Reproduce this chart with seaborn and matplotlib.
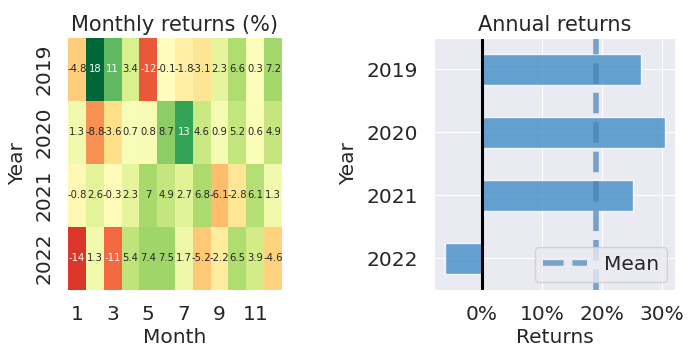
import numpy as np
import pandas as pd
import matplotlib
matplotlib.use("Agg")
import matplotlib.pyplot as plt
import matplotlib.ticker as mticker
import seaborn as sns

years = [2019, 2020, 2021, 2022]
months = list(range(1, 13))
ret_2019 = [-4.8, 18, 11, 3.4, -12, -0.1, -1.8, -3.1, 2.3, 6.6, 0.3, 7.2]
ret_2020 = [1.3, -8.8, -3.6, 0.7, 0.8, 8.7, 13, 4.6, 0.9, 5.2, 0.6, 4.9]
ret_2021 = [-0.8, 2.6, -0.3, 2.3, 7, 4.9, 2.7, 6.8, -6.1, -2.8, 6.1, 1.3]
ret_2022 = [-14, 1.3, -11, 5.4, 7.4, 7.5, 1.7, -5.2, -2.2, 6.5, 3.9, -4.6]
annual_returns = [0.265, 0.305, 0.253, -0.062]

sns.set_style("darkgrid")
plt.rcParams['font.family'] = ['DejaVu Sans']

monthly = pd.DataFrame([ret_2019, ret_2020, ret_2021, ret_2022], index=years, columns=months)
monthly.index.name = "Year"
monthly.columns.name = "Month"

fig = plt.figure(figsize=(6.9, 3.54), dpi=100)
ax1 = fig.add_axes([0.0986, 0.181, 0.310, 0.712])
ax2 = fig.add_axes([0.629, 0.181, 0.349, 0.712])

FS = 14.5
sns.heatmap(monthly, ax=ax1, cmap="RdYlGn", center=0.0, annot=True, fmt=".2g",
            annot_kws={"size": 7.2}, cbar=False, xticklabels=2, yticklabels=1)
ax1.set_title("Monthly returns (%)", fontsize=15, pad=5)
ax1.set_xlabel("Month", fontsize=FS, labelpad=3)
ax1.set_ylabel("Year", fontsize=FS, labelpad=5)
ax1.tick_params(axis='x', labelsize=FS, rotation=0, pad=7)
ax1.tick_params(axis='y', labelsize=FS, rotation=90, pad=7)
for t in ax1.get_yticklabels():
    t.set_va('center')

ann = pd.DataFrame({"Year": [str(y) for y in years], "Returns": annual_returns})
sns.barplot(data=ann, x="Returns", y="Year", ax=ax2, color="steelblue",
            width=0.5, saturation=1)
for p in ax2.patches:
    p.set_alpha(0.85)
    p.set_facecolor("#4d93c9")
ax2.axvline(0, color="black", lw=2.2)
mean_val = np.mean(annual_returns)
ax2.axvline(mean_val, color="steelblue", ls="--", lw=4, alpha=0.7, label="Mean")
ax2.xaxis.set_major_formatter(mticker.FuncFormatter(lambda x, _: f"{x*100:.0f}%"))
ax2.xaxis.set_major_locator(mticker.MultipleLocator(0.1))
ax2.set_xlim(-0.08, 0.322)
ax2.set_title("Annual returns", fontsize=15, pad=5)
ax2.set_xlabel("Returns", fontsize=FS, labelpad=3)
ax2.set_ylabel("Year", fontsize=FS, labelpad=6)
ax2.tick_params(axis='x', labelsize=FS, pad=7)
ax2.tick_params(axis='y', labelsize=FS, pad=8)
ax2.grid(True, axis='both')
ax2.legend(loc="lower right", fontsize=FS, frameon=True, handlelength=2.2,
           borderaxespad=0.4)

fig.savefig("out.png", dpi=100)
